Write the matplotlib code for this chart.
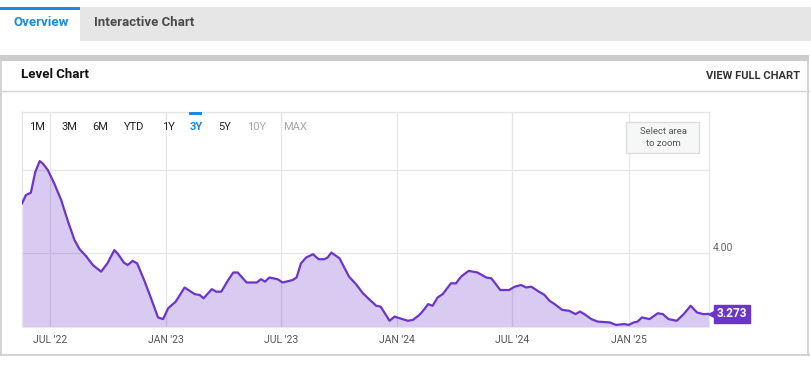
import pandas as pd
import numpy as np
import matplotlib
matplotlib.use("Agg")
import matplotlib.pyplot as plt
import matplotlib.dates as mdates
from matplotlib.patches import Rectangle
from matplotlib.transforms import offset_copy

plt.rcParams['font.family'] = ['Roboto', 'DejaVu Sans']

# weekly-ish readings
dates = [
    "2022-05-18", "2022-05-24", "2022-06-01", "2022-06-08", "2022-06-15", "2022-06-20",
    "2022-06-28", "2022-07-08", "2022-07-19", "2022-07-29", "2022-08-09", "2022-08-17",
    "2022-08-27", "2022-09-07", "2022-09-20", "2022-09-30", "2022-10-11", "2022-10-17",
    "2022-10-26", "2022-11-01", "2022-11-09", "2022-11-16", "2022-11-27", "2022-12-08",
    "2022-12-19", "2022-12-27", "2023-01-04", "2023-01-16", "2023-01-30", "2023-02-15",
    "2023-02-23", "2023-03-01", "2023-03-14", "2023-03-21", "2023-03-29", "2023-04-09",
    "2023-04-17", "2023-04-24", "2023-05-08", "2023-05-24", "2023-05-31", "2023-06-06",
    "2023-06-13", "2023-06-26", "2023-07-04", "2023-07-20", "2023-07-26", "2023-08-02",
    "2023-08-10", "2023-08-21", "2023-08-30", "2023-09-08", "2023-09-13", "2023-09-19",
    "2023-10-02", "2023-10-17", "2023-10-28", "2023-11-08", "2023-11-19", "2023-11-29",
    "2023-12-06", "2023-12-20", "2023-12-28", "2024-01-05", "2024-01-18", "2024-01-26",
    "2024-02-05", "2024-02-10", "2024-02-19", "2024-02-26", "2024-03-05", "2024-03-13",
    "2024-03-26", "2024-04-03", "2024-04-11", "2024-04-23", "2024-05-07", "2024-05-21",
    "2024-05-29", "2024-06-04", "2024-06-12", "2024-06-26", "2024-07-05", "2024-07-15",
    "2024-07-23", "2024-07-31", "2024-08-10", "2024-08-21", "2024-08-29", "2024-09-06",
    "2024-09-18", "2024-09-29", "2024-10-09", "2024-10-16", "2024-10-23", "2024-11-03",
    "2024-11-13", "2024-12-02", "2024-12-12", "2024-12-25", "2025-01-01", "2025-01-09",
    "2025-01-15", "2025-01-22", "2025-02-03", "2025-02-16", "2025-02-24", "2025-03-05",
    "2025-03-18", "2025-03-29", "2025-04-09", "2025-04-19", "2025-04-29", "2025-05-08",
]
values = [
    4.60, 4.70, 4.73, 4.98, 5.11, 5.08,
    5.00, 4.84, 4.64, 4.40, 4.16, 4.05,
    3.97, 3.86, 3.78, 3.88, 4.04, 3.99,
    3.89, 3.86, 3.91, 3.88, 3.68, 3.46,
    3.23, 3.21, 3.34, 3.42, 3.59, 3.51,
    3.50, 3.46, 3.57, 3.54, 3.54, 3.68,
    3.77, 3.77, 3.65, 3.65, 3.69, 3.66,
    3.71, 3.69, 3.65, 3.68, 3.71, 3.88,
    3.95, 3.99, 3.93, 3.93, 3.95, 4.01,
    3.94, 3.72, 3.63, 3.52, 3.44, 3.37,
    3.36, 3.19, 3.24, 3.22, 3.19, 3.20,
    3.26, 3.30, 3.39, 3.37, 3.47, 3.51,
    3.64, 3.64, 3.72, 3.79, 3.77, 3.71,
    3.70, 3.64, 3.56, 3.56, 3.60, 3.62,
    3.59, 3.60, 3.55, 3.50, 3.43, 3.39,
    3.32, 3.31, 3.27, 3.30, 3.27, 3.21,
    3.18, 3.17, 3.14, 3.15, 3.14, 3.17,
    3.18, 3.23, 3.21, 3.28, 3.27, 3.21,
    3.19, 3.27, 3.37, 3.29, 3.27, 3.273,
]
last_label = "3.273"
range_buttons = ["1M", "3M", "6M", "YTD", "1Y", "3Y", "5Y", "10Y", "MAX"]
active_button = "3Y"
disabled_buttons = ["10Y", "MAX"]

df = pd.DataFrame({"date": pd.to_datetime(dates), "value": values})

W, H = 812, 372
fig = plt.figure(figsize=(W / 100, H / 100), dpi=100)
fig.patch.set_facecolor("white")

# plot area in pixel box
px0, px1, py0, py1 = 22, 709, 112, 327
ax = fig.add_axes([px0 / W, 1 - py1 / H, (px1 - px0) / W, (py1 - py0) / H])

purple = "#6a35c8"
grid_c = "#e6e6e6"
ax.fill_between(df["date"], df["value"], 3.115, color=purple, alpha=0.26, lw=0, zorder=2)
ax.plot(df["date"], df["value"], color=purple, lw=1.6, zorder=3, solid_joinstyle="round")

ax.set_xlim(df["date"].iloc[0], df["date"].iloc[-1])
ax.set_ylim(3.115, 5.70)

ax.xaxis.set_major_locator(mdates.MonthLocator(bymonth=[1, 7]))
ax.xaxis.set_major_formatter(plt.FuncFormatter(
    lambda x, pos: mdates.num2date(x).strftime("%b '%y").upper()))
ax.set_yticks([4.0, 5.0])
ax.set_yticklabels([])
ax.tick_params(axis="both", length=0)
ax.tick_params(axis="x", pad=6, labelsize=7.5, labelcolor="#555555")
ax.grid(True, color=grid_c, lw=1, zorder=0)
ax.set_axisbelow(True)
for s in ["top", "left", "right"]:
    ax.spines[s].set_color(grid_c)
    ax.spines[s].set_linewidth(1)
ax.spines["bottom"].set_visible(False)

ax.text(1.006, 4.0, "4.00", transform=ax.get_yaxis_transform(), ha="left", va="bottom",
        fontsize=7.5, color="#666666")

# last value flag
last_d, last_v = df["date"].iloc[-1], df["value"].iloc[-1]
tri_tr = offset_copy(ax.transData, fig=fig, x=4.5, y=0, units="dots")
ax.plot([last_d], [last_v], marker="<", ms=7, color=purple, mec=purple, transform=tri_tr,
        clip_on=False, zorder=5)
ax.annotate(last_label, (last_d, last_v), xytext=(8, 0), textcoords="offset pixels",
            ha="left", va="center", fontsize=8.5, fontweight="bold", color="white",
            bbox=dict(boxstyle="square,pad=0.22", fc=purple, ec=purple), annotation_clip=False,
            zorder=5)

# page chrome, drawn in pixel coordinates on top
ov = fig.add_axes([0, 0, 1, 1], zorder=10)
ov.set_xlim(0, W)
ov.set_ylim(H, 0)
ov.axis("off")
ov.patch.set_alpha(0)

blue = "#1a8be0"
ov.add_patch(Rectangle((80, 7), W - 80, 34, color="#e6e6e6", lw=0))
ov.add_patch(Rectangle((0, 7), 80, 3, color=blue, lw=0))
ov.text(14, 23, "Overview", color=blue, fontsize=9.5, fontweight="bold", va="center")
ov.text(94, 23, "Interactive Chart", color="#4a4a4a", fontsize=9.5, fontweight="bold", va="center")

ov.add_patch(Rectangle((0, 55), 809, 6, color="#cccccc", lw=0))
ov.plot([0.8, 0.8], [61, 355], color="#cccccc", lw=1.2)
ov.plot([808.2, 808.2], [61, 355], color="#cccccc", lw=1.2)
ov.plot([0, 809], [355, 355], color="#cccccc", lw=1.2)
ov.plot([0, 809], [91, 91], color="#d4d4d4", lw=1)
ov.text(21, 75, "Level Chart", color="#111111", fontsize=9.5, fontweight="bold", va="center")
ov.text(800, 76, "VIEW FULL CHART", color="#333333", fontsize=8, fontweight="bold",
        va="center", ha="right")

btn_x = [37, 69, 100, 134, 168, 196, 225, 257, 295]
for lab, bx in zip(range_buttons, btn_x):
    c = "#222222"
    w = "normal"
    if lab == active_button:
        c, w = blue, "bold"
        ov.add_patch(Rectangle((bx - 6.5, 112), 13, 3, color=blue, lw=0))
    elif lab in disabled_buttons:
        c = "#a8a8a8"
    ov.text(bx, 127, lab, color=c, fontsize=8, fontweight=w, ha="center", va="center")

ov.add_patch(Rectangle((626, 122), 73, 31, fc="#f6f7f7", ec="#dddddd", lw=1))
ov.text(663, 131, "Select area", color="#555555", fontsize=6.8, ha="center", va="center")
ov.text(663, 143, "to zoom", color="#555555", fontsize=6.8, ha="center", va="center")

fig.savefig("out.png", dpi=100)
